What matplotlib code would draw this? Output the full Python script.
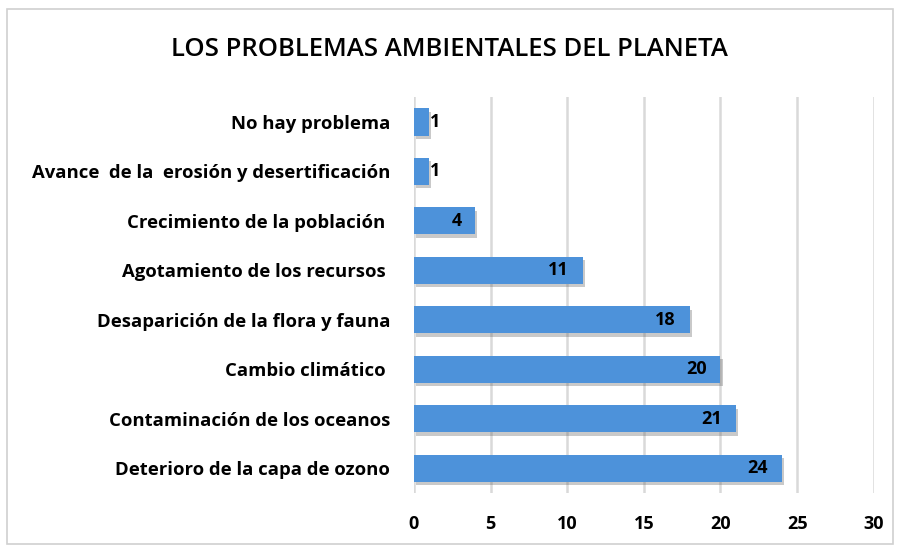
import matplotlib
import matplotlib.pyplot as plt
import matplotlib.patheffects as pe
from matplotlib.patches import FancyBboxPatch

matplotlib.use("agg")

categories = [
    "No hay problema",
    "Avance  de la  erosión y desertificación",
    "Crecimiento de la población ",
    "Agotamiento de los recursos ",
    "Desaparición de la flora y fauna",
    "Cambio climático ",
    "Contaminación de los oceanos",
    "Deterioro de la capa de ozono",
]
values = [1, 1, 4, 11, 18, 20, 21, 24]
xticks = [0, 5, 10, 15, 20, 25, 30]

plt.rcParams["font.family"] = ["Open Sans", "DejaVu Sans"]

fig = plt.figure(figsize=(8.98, 5.46), dpi=100)
ax = fig.add_axes([0.461, 0.097, 0.512, 0.725])

# outer chart border
fig.patches.append(
    FancyBboxPatch((0.008, 0.004), 0.986, 0.98, boxstyle="square,pad=0",
                   transform=fig.transFigure, fill=False, edgecolor="#D0D0D0", linewidth=1.2)
)

ypos = list(range(len(categories)))
bars = ax.barh(ypos, values, height=0.55, color="#4D92DA", zorder=3)
for b in bars:
    b.set_path_effects([pe.SimplePatchShadow(offset=(1.5, -2.5), shadow_rgbFace="#666666", alpha=0.35), pe.Normal()])

# data labels: inside end, or just outside when the bar is too short
for y, v in zip(ypos, values):
    if v < 3:
        ax.text(v + 0.05, y, str(v), ha="left", va="center", fontsize=13, fontweight="bold", color="black", zorder=4)
    else:
        ax.text(v - 0.9, y, str(v), ha="right", va="center", fontsize=13, fontweight="bold", color="black", zorder=4)

ax.set_ylim(7.5, -0.5)
ax.set_xlim(0, 30)
ax.set_xticks(xticks)
ax.set_xticklabels([str(t) for t in xticks], fontsize=13, fontweight="bold")
ax.set_yticks(ypos)
ax.set_yticklabels(categories, fontsize=13.3, fontweight="bold")
ax.tick_params(axis="both", length=0)
ax.tick_params(axis="y", pad=17)
ax.tick_params(axis="x", pad=16)
ax.grid(axis="x", color="#D9D9D9", linewidth=1.8, zorder=0)
for s in ax.spines.values():
    s.set_visible(False)

fig.text(0.50, 0.91, "LOS PROBLEMAS AMBIENTALES DEL PLANETA", ha="center", va="center",
         fontsize=18.5, fontweight="semibold", color="black")

fig.savefig("out.png", dpi=100, facecolor="white")
